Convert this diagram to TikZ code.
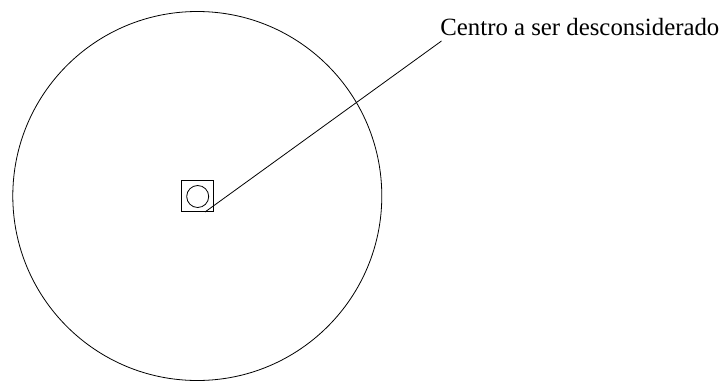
\documentclass[tikz,border=0pt]{standalone}
\usepackage{fontspec}
\setmainfont{Liberation Serif}
\begin{document}
\begin{tikzpicture}[x=1pt,y=-1pt,line width=0.8pt,
  lbl/.style={anchor=base west,inner sep=0pt,font=\fontsize{24.8}{29}\selectfont}]
\useasboundingbox (0,0) rectangle (725,383);
\node[circle,draw,minimum size=369pt,inner sep=0pt] (big) at (197.3,196) {};
\node[draw,minimum size=31.6pt,inner sep=0pt] (sq) at (197.5,196) {};
\node[circle,draw,minimum size=22pt,inner sep=0pt] (sm) at (197.7,196.5) {};
\node[lbl] (t) at (440,35) {Centro a ser desconsiderado};
\coordinate (s) at (205,212);
\coordinate (e) at (441.5,41);
\draw (s) -- (e);
\end{tikzpicture}
\end{document}
